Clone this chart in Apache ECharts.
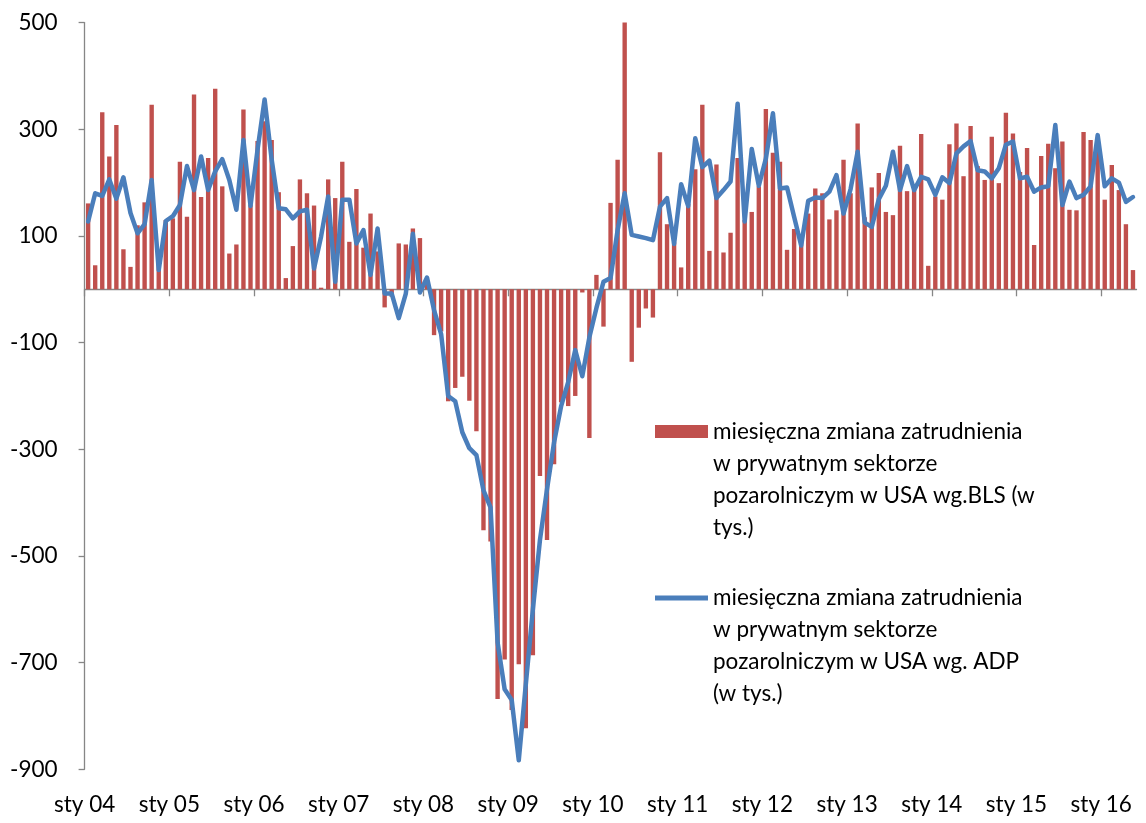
<!DOCTYPE html>
<html>
<head>
<meta charset="utf-8">
<script src="https://cdn.jsdelivr.net/npm/echarts@6/dist/echarts.min.js"></script>
<style>
html,body{margin:0;padding:0;background:#fff;}
#chart{width:1146px;height:823px;}
</style>
</head>
<body>
<div id="chart"></div>
<script>
// monthly categories Jan 2004 .. May 2016
const startYear = 2004;
const monthCount = 149;
const months = [];
for (let i = 0; i < monthCount; i++) {
  months.push((startYear + Math.floor(i / 12)) + '-' + String(i % 12 + 1).padStart(2, '0'));
}

const tickLabels = ['sty 04','sty 05','sty 06','sty 07','sty 08','sty 09','sty 10','sty 11','sty 12','sty 13','sty 14','sty 15','sty 16'];
const xTickPositions = [0,12,24,36,48,60,72,84,96,108,120,132,144];
const yTickValues = [-900,-700,-500,-300,-100,100,300,500];

// BLS monthly change (thous.)
const bls = [
  161, 45, 332, 249, 308, 75, 42, 120, 163, 346, 64, 130,        // 2004
  133, 239, 136, 365, 173, 246, 376, 193, 67, 84, 337, 159,      // 2005
  278, 315, 280, 182, 21, 81, 206, 180, 157, 3, 206, 171,        // 2006
  239, 89, 188, 78, 142, 71, -34, -14, 86, 84, 114, 96,          // 2007
  17, -86, -79, -210, -185, -164, -209, -266, -452, -473, -768, -694, // 2008
  -789, -703, -823, -686, -350, -470, -328, -212, -219, -200, -6, -279, // 2009
  27, -70, 162, 243, 516, -136, -72, -36, -53, 257, 122, 88,     // 2010
  41, 160, 225, 346, 72, 234, 69, 106, 246, 130, 145, 193,       // 2011
  338, 256, 239, 74, 113, 99, 142, 189, 180, 131, 148, 243,      // 2012
  180, 311, 135, 191, 218, 145, 139, 269, 184, 186, 291, 44,     // 2013
  174, 168, 272, 311, 212, 306, 231, 205, 286, 199, 331, 292,    // 2014
  220, 265, 83, 250, 273, 227, 277, 149, 148, 295, 280, 271,     // 2015
  168, 233, 186, 122, 36                                         // 2016
];

// ADP monthly change (thous.)
const adp = [
  127, 180, 175, 206, 170, 210, 143, 105, 122, 205, 36, 128,     // 2004
  137, 158, 231, 186, 249, 186, 221, 244, 205, 149, 280, 156,    // 2005
  262, 356, 243, 152, 150, 133, 146, 149, 39, 99, 174, 14,       // 2006
  168, 168, 86, 111, 27, 114, -8, -8, -54, -8, 104, -6,          // 2007
  22, -39, -84, -200, -210, -268, -298, -311, -377, -409, -662, -750, // 2008
  -770, -883, -740, -600, -470, -375, -287, -219, -174, -114, -163, -90, // 2009
  -35, 14, 21, 111, 180, 102, 99, 96, 92, 155, 171, 85,          // 2010
  197, 156, 283, 229, 241, 171, 186, 202, 348, 127, 263, 194,    // 2011
  245, 330, 189, 191, 136, 82, 166, 172, 171, 183, 214, 142,     // 2012
  188, 258, 125, 117, 169, 194, 258, 186, 231, 186, 211, 206,    // 2013
  177, 210, 199, 255, 268, 278, 223, 221, 208, 227, 271, 277,    // 2014
  208, 211, 183, 191, 193, 308, 158, 202, 171, 177, 193, 289,    // 2015
  193, 208, 200, 164, 173                                        // 2016
];

const blsName = 'miesięczna zmiana zatrudnienia w prywatnym sektorze pozarolniczym w USA wg.BLS (w tys.)';
const adpName = 'miesięczna zmiana zatrudnienia w prywatnym sektorze pozarolniczym w USA wg. ADP (w tys.)';
const blsLegendLines = ['miesięczna zmiana zatrudnienia', 'w prywatnym sektorze', 'pozarolniczym w USA wg.BLS (w', 'tys.)'];
const adpLegendLines = ['miesięczna zmiana zatrudnienia', 'w prywatnym sektorze', 'pozarolniczym w USA wg. ADP', '(w tys.)'];

const FONT = 'Lato, "Open Sans", sans-serif';
const FS = 22.5;
const axisGray = '#868686';

const chart = echarts.init(document.getElementById('chart'), null, {renderer: 'canvas'});

const legendText = {fontSize: FS, lineHeight: 32, fontFamily: FONT, color: '#000'};

const option = {
  animation: false,
  backgroundColor: '#fff',
  grid: {left: 84.6, right: 9.5, top: 22.6, bottom: 53.7, outerBoundsMode: 'none'},
  legend: [
    {
      data: [blsName], left: 650, top: 314.5, orient: 'vertical',
      icon: 'rect', itemWidth: 53, itemHeight: 13, selectedMode: false,
      textStyle: legendText,
      formatter: function () { return '\n\n\n' + blsLegendLines.join('\n'); }
    },
    {
      data: [adpName], left: 650, top: 481, orient: 'vertical',
      icon: 'rect', itemWidth: 53, itemHeight: 5, selectedMode: false,
      textStyle: legendText,
      formatter: function () { return '\n\n\n' + adpLegendLines.join('\n'); }
    }
  ],
  xAxis: [
    {
      type: 'category', data: months, position: 'top', boundaryGap: true, show: false,
      axisLine: {onZero: false}
    },
    {
      type: 'value', min: 0, max: monthCount, position: 'bottom',
      axisLine: {show: true, onZero: true, lineStyle: {color: axisGray, width: 1.3}},
      axisTick: {show: true, length: 7, customValues: xTickPositions, lineStyle: {color: axisGray, width: 1.3}},
      axisLabel: {show: false},
      splitLine: {show: false}
    },
    {
      type: 'value', min: 0, max: monthCount, position: 'bottom',
      axisLine: {show: false, onZero: false},
      axisTick: {show: false},
      axisLabel: {
        show: true, customValues: xTickPositions, margin: 24,
        fontSize: FS, fontFamily: FONT, color: '#000',
        formatter: function (v) { const k = Math.round(v / 12); return tickLabels[k] || ''; }
      },
      splitLine: {show: false}
    }
  ],
  yAxis: {
    type: 'value', min: -900, max: 500, interval: 100,
    axisLine: {show: true, onZero: false, lineStyle: {color: axisGray, width: 1.3}},
    axisTick: {show: true, length: 6, customValues: yTickValues, lineStyle: {color: axisGray, width: 1.3}},
    axisLabel: {customValues: yTickValues, margin: 27, fontSize: FS, fontFamily: FONT, color: '#000'},
    splitLine: {show: false}
  },
  series: [
    {
      name: blsName, type: 'bar', xAxisIndex: 0, data: bls,
      barCategoryGap: '38%', clip: true,
      itemStyle: {color: '#C0504D'}
    },
    {
      name: adpName, type: 'line', xAxisIndex: 0, data: adp,
      symbol: 'none', showSymbol: false, smooth: false,
      lineStyle: {color: '#4A7EBB', width: 4.5, cap: 'round', join: 'round'},
      itemStyle: {color: '#4A7EBB'}
    }
  ]
};
chart.setOption(option);
</script>
</body>
</html>
